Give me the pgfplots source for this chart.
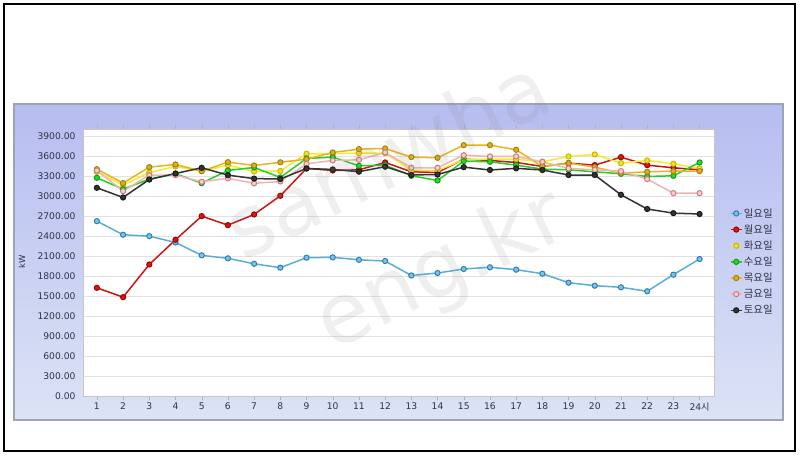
\documentclass[border=0pt]{standalone}
\usepackage{fontspec}
\setmainfont{DejaVu Sans}
\newfontfamily\kr{Noto Sans CJK KR}
\usepackage{pgfplots}
\usepackage{pgfplotstable}
\pgfplotsset{compat=1.18}

\definecolor{panelTop}{HTML}{B6BDF0}
\definecolor{panelBot}{HTML}{DCE3F5}
\definecolor{panelEdge}{HTML}{9EA3B8}
\definecolor{txt}{HTML}{2E3348}
\definecolor{gridc}{HTML}{E2E2E2}
\definecolor{sunL}{HTML}{5AAED6}\definecolor{sunD}{HTML}{2F7FB5}\definecolor{sunF}{HTML}{7CC4E6}
\definecolor{monL}{HTML}{CC1414}\definecolor{monD}{HTML}{A00000}\definecolor{monF}{HTML}{D81818}
\definecolor{tueL}{HTML}{F2EC2A}\definecolor{tueD}{HTML}{C8B800}\definecolor{tueF}{HTML}{EEE230}
\definecolor{wedL}{HTML}{2ACC2A}\definecolor{wedD}{HTML}{159915}\definecolor{wedF}{HTML}{22DD22}
\definecolor{thuL}{HTML}{E8B41E}\definecolor{thuD}{HTML}{A88400}\definecolor{thuF}{HTML}{D8AE2A}
\definecolor{friL}{HTML}{F0B4B4}\definecolor{friD}{HTML}{CC7C7C}\definecolor{friF}{HTML}{F6CFCF}
\definecolor{satL}{HTML}{333333}\definecolor{satD}{HTML}{1A1A1A}\definecolor{satF}{HTML}{333333}

\pgfplotstableread{
h sun mon tue wed thu fri sat
1 2630 1630 3370 3280 3410 3390 3130
2 2426 1490 3170 3110 3200 3080 2985
3 2405 1980 3360 3260 3440 3320 3255
4 2310 2350 3450 3340 3480 3320 3345
5 2117 2705 3380 3200 3380 3220 3430
6 2072 2570 3470 3390 3515 3272 3320
7 1990 2730 3375 3435 3465 3198 3268
8 1932 3010 3382 3285 3512 3225 3262
9 2082 3420 3640 3570 3560 3490 3420
10 2087 3390 3640 3590 3660 3540 3405
11 2050 3400 3650 3460 3710 3550 3372
12 2032 3510 3650 3470 3720 3660 3447
13 1815 3370 3390 3310 3590 3430 3322
14 1852 3360 3390 3240 3580 3430 3330
15 1912 3560 3550 3530 3770 3620 3440
16 1938 3540 3560 3520 3770 3600 3397
17 1902 3510 3560 3470 3700 3600 3422
18 1842 3450 3520 3410 3450 3520 3397
19 1707 3500 3600 3400 3500 3420 3322
20 1662 3470 3630 3370 3440 3400 3322
21 1638 3590 3500 3340 3350 3380 3025
22 1578 3470 3540 3300 3370 3260 2812
23 1827 3430 3490 3310 3380 3050 2750
24 2062 3400 3420 3510 3380 3050 2737
}\data

\begin{document}
\begin{tikzpicture}
\useasboundingbox (0,0) rectangle (800bp,456bp);
\fill[white] (0,0) rectangle (800bp,456bp);
\draw[black, line width=1.6bp] (3.8bp,4.8bp) rectangle (795.2bp,451.8bp);
\shade[top color=panelTop, bottom color=panelBot] (14bp,36bp) rectangle (783bp,352bp);
\draw[panelEdge, line width=1.2bp] (14bp,36bp) rectangle (783bp,352bp);
\begin{axis}[
  at={(83bp,59.5bp)}, anchor=south west,
  scale only axis, width=631bp, height=267.5bp,
  xmin=0.47, xmax=24.55, ymin=0, ymax=4012,
  axis background/.style={fill=white},
  axis line style={draw=gray!45},
  ymajorgrids, grid style={gridc, line width=0.8bp},
  xtick={1,...,24},
  xticklabels={1,2,3,4,5,6,7,8,9,10,11,12,13,14,15,16,17,18,19,20,21,22,23,{24{\kr 시}}},
  ytick={0,300,...,3900},
  tick align=outside, major tick length=4bp,
  xtick style={draw=gray!60},
  ytick style={draw=none},
  /pgf/number format/assume math mode=true,
  ticklabel style={font=\fontsize{9.2}{10}\selectfont, text=txt},
  yticklabel style={/pgf/number format/.cd, fixed, fixed zerofill, precision=2, 1000 sep={}},
  xticklabel style={yshift=1bp},
  ylabel={kW},
  every axis y label/.append style={at={(axis description cs:-0.0967,0.503)}, anchor=center, font=\fontsize{8.5}{10}\selectfont, text=txt},
  legend style={at={(axis description cs:1.02,0.716)}, anchor=north west, draw=none, fill=none,
    font=\kr\fontsize{10.5}{12}\selectfont, text=txt, row sep=3.6bp,
    nodes={inner sep=1.2bp}},
  legend cell align=left,
  legend image code/.code={\draw[mark repeat=2,mark phase=2] plot coordinates {(0cm,0cm) (0.2cm,0cm) (0.4cm,0cm)};},
  every axis plot/.append style={line width=1.5bp, mark=*, mark size=2.6bp},
  clip=false,
]
\addplot[sunL, mark options={draw=sunD, fill=sunF, line width=1bp}] table[x=h,y=sun] {\data};
\addlegendentry{일요일}
\addplot[monL, mark options={draw=monD, fill=monF, line width=1bp}] table[x=h,y=mon] {\data};
\addlegendentry{월요일}
\addplot[tueL, mark options={draw=tueD, fill=tueF, line width=1bp}] table[x=h,y=tue] {\data};
\addlegendentry{화요일}
\addplot[wedL, mark options={draw=wedD, fill=wedF, line width=1bp}] table[x=h,y=wed] {\data};
\addlegendentry{수요일}
\addplot[thuL, mark options={draw=thuD, fill=thuF, line width=1bp}] table[x=h,y=thu] {\data};
\addlegendentry{목요일}
\addplot[friL, mark options={draw=friD, fill=friF, line width=1bp}] table[x=h,y=fri] {\data};
\addlegendentry{금요일}
\addplot[satL, mark options={draw=satD, fill=satF, line width=1bp}] table[x=h,y=sat] {\data};
\addlegendentry{토요일}
\end{axis}
\node[rotate=26, text=gray, text opacity=0.12, align=center, inner sep=0pt,
  font=\fontsize{84}{120}\selectfont] at (416bp,238bp) {samwha\\eng.kr};
\end{tikzpicture}
\end{document}
